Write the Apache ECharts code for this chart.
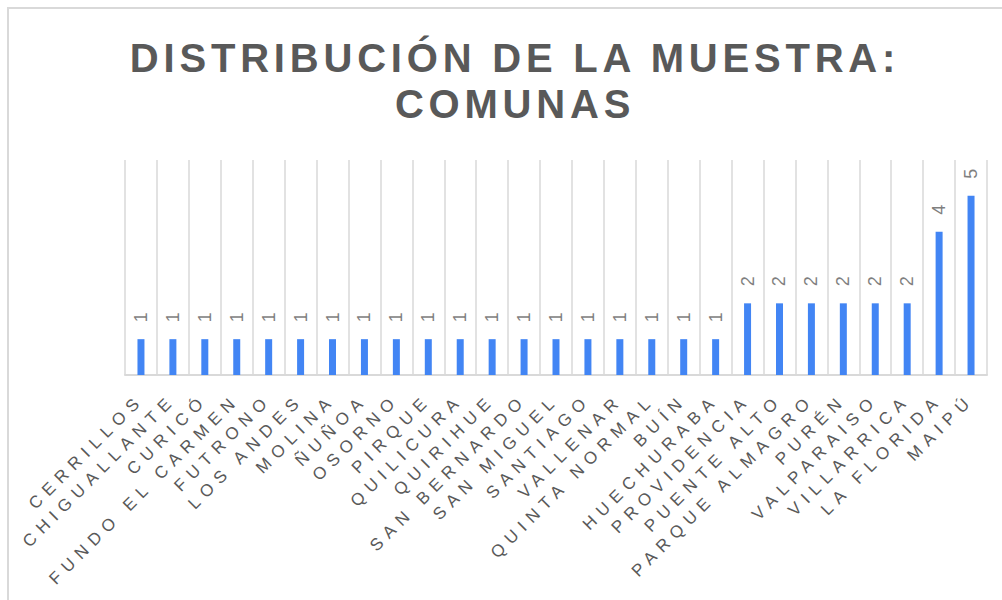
<!DOCTYPE html>
<html>
<head>
<meta charset="utf-8">
<script src="https://cdn.jsdelivr.net/npm/echarts@6/dist/echarts.min.js"></script>
<style>
html,body{margin:0;padding:0;background:#fff;}
#chart{width:1002px;height:600px;}
#chart text[style*="40px"]{letter-spacing:4.8px;}
#chart text[style*="17px"]{letter-spacing:6.5px;}
</style>
</head>
<body>
<div id="chart"></div>
<script>
const titleText = "DISTRIBUCIÓN DE LA MUESTRA:\nCOMUNAS";
const categories = ["CERRILLOS","CHIGUALLANTE","CURICÓ","FUNDO EL CARMEN","FUTRONO","LOS ANDES","MOLINA","ÑUÑOA","OSORNO","PIRQUE","QUILICURA","QUIRIHUE","SAN BERNARDO","SAN MIGUEL","SANTIAGO","VALLENAR","QUINTA NORMAL","BUÍN","HUECHURABA","PROVIDENCIA","PUENTE ALTO","PARQUE ALMAGRO","PURÉN","VALPARAISO","VILLARRICA","LA FLORIDA","MAIPÚ"];
const counts = [1,1,1,1,1,1,1,1,1,1,1,1,1,1,1,1,1,1,1,2,2,2,2,2,2,4,5];

const chart = echarts.init(document.getElementById('chart'), null, {renderer:'svg'});
chart.setOption({
  backgroundColor:'#fff',
  animation:false,
  graphic:[{type:'rect', shape:{x:8,y:8,width:1010,height:610}, style:{fill:'none',stroke:'#d9d9d9',lineWidth:2}, silent:true}],
  title:{
    text:titleText, left:510, textAlign:'center', top:30,
    textStyle:{fontFamily:'Liberation Sans, Arial, sans-serif', fontSize:40, fontWeight:'bold', color:'#595959', lineHeight:46}
  },
  grid:{left:125, right:15, top:160, bottom:225, containLabel:false},
  xAxis:{
    type:'category', data:categories, boundaryGap:true,
    axisLine:{show:true, lineStyle:{color:'#d9d9d9', width:2}},
    axisTick:{show:false},
    splitLine:{show:true, lineStyle:{color:'#d9d9d9', width:1.5}},
    axisLabel:{interval:0, rotate:45, margin:22, fontSize:17, color:'#595959', fontFamily:'Liberation Sans, Arial, sans-serif'}
  },
  yAxis:{type:'value', min:0, max:6, show:false, splitLine:{show:false}},
  series:[{
    type:'bar', data:counts, barWidth:7,
    itemStyle:{color:'#4285f4'},
    label:{show:true, position:'top', distance:22, rotate:90, align:'center', verticalAlign:'middle', fontSize:18, color:'#7f7f7f', fontFamily:'Liberation Sans, Arial, sans-serif'}
  }]
});
</script>
</body>
</html>
